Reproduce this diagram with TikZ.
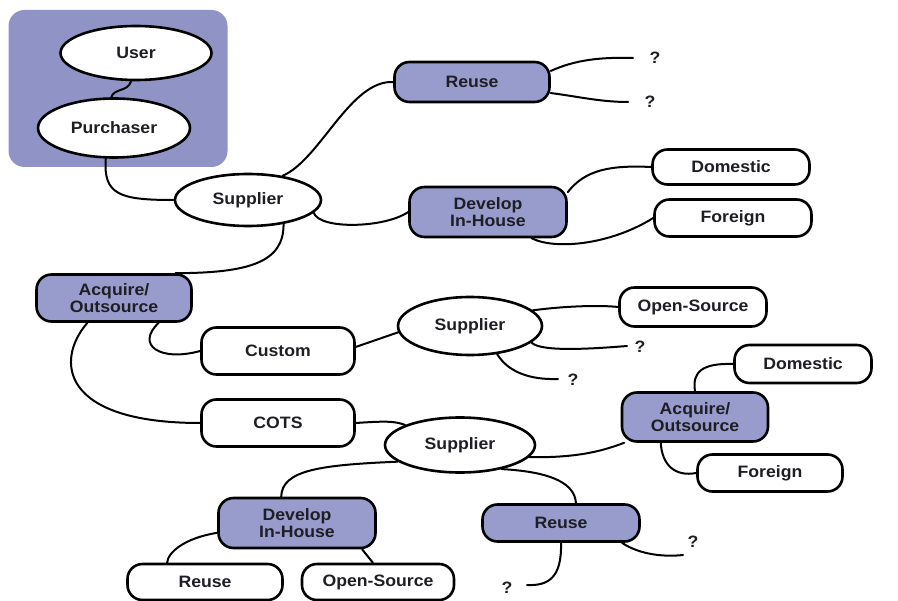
\documentclass[tikz,border=0pt]{standalone}
\usepackage{fontspec}
\setmainfont{Liberation Sans}[FakeStretch=1.07]
\usetikzlibrary{shapes.geometric,calc}
\definecolor{grpblue}{RGB}{143,147,198}
\definecolor{nodeblue}{RGB}{152,156,204}
\definecolor{txt}{RGB}{30,30,36}
\begin{document}
\begin{tikzpicture}[x=1pt,y=-1pt,
  lbl/.style={font=\fontsize{16.5}{17.5}\selectfont\bfseries, text=txt, align=center},
  ell/.style={lbl, ellipse, draw, line width=2.6pt, fill=white, inner sep=0pt},
  wbox/.style={lbl, rectangle, rounded corners=15pt, draw, line width=2.6pt, fill=white, inner sep=0pt},
  bbox/.style={wbox, fill=nodeblue},
  grp/.style={rectangle, rounded corners=16pt, fill=grpblue, inner sep=0pt},
  link/.style={line width=2pt, line cap=round},
  qm/.style={lbl}]
\path[use as bounding box] (0,0) rectangle (898,601);
% group
\node[grp, minimum width=219pt, minimum height=157pt] (grp) at (118,88.5) {};
% nodes
\node[ell, minimum width=151pt, minimum height=54pt] (user) at (136,53) {User};
\node[ell, minimum width=152pt, minimum height=59pt] (purch) at (114,128) {Purchaser};
\node[ell, minimum width=146pt, minimum height=52pt] (sup1) at (248,200) {Supplier};
\node[bbox, minimum width=155pt, minimum height=40pt] (reuse1) at (472,82) {Reuse};
\node[bbox, minimum width=157pt, minimum height=50pt] (dev1) at (488,212) {Develop\\In-House};
\node[wbox, minimum width=157pt, minimum height=35pt] (dom1) at (731,167) {Domestic};
\node[wbox, minimum width=157pt, minimum height=37pt] (for1) at (733,218) {Foreign};
\node[bbox, minimum width=155pt, minimum height=47pt] (acq1) at (114,298) {Acquire/\\Outsource};
\node[wbox, minimum width=153pt, minimum height=47pt] (custom) at (278,351) {Custom};
\node[wbox, minimum width=153pt, minimum height=47pt] (cots) at (278,423) {COTS};
\node[ell, minimum width=144pt, minimum height=58pt] (sup2) at (470,326) {Supplier};
\node[wbox, minimum width=147pt, minimum height=39pt] (os1) at (693,307) {Open-Source};
\node[wbox, minimum width=137pt, minimum height=38pt] (dom2) at (803,364) {Domestic};
\node[bbox, minimum width=146pt, minimum height=49pt] (acq2) at (695,417) {Acquire/\\Outsource};
\node[wbox, minimum width=145pt, minimum height=37pt] (for2) at (770,473) {Foreign};
\node[ell, minimum width=150pt, minimum height=55pt] (sup3) at (460,445) {Supplier};
\node[bbox, minimum width=157pt, minimum height=50pt] (dev2) at (297,523) {Develop\\In-House};
\node[bbox, minimum width=157pt, minimum height=37pt] (reuse2) at (561,523) {Reuse};
\node[wbox, minimum width=155pt, minimum height=36pt] (reuse3) at (205,582) {Reuse};
\node[wbox, minimum width=152pt, minimum height=36pt] (os3) at (378,582) {Open-Source};
% question marks and free ends
\node[qm] (q1) at (655,58) {?};
\node[qm] (q2) at (650,102) {?};
\node[qm] (q3) at (640,347) {?};
\node[qm] (q4) at (573,380) {?};
\node[qm] (q5) at (693,542) {?};
\node[qm] (q6) at (507,588) {?};
\coordinate (e1) at (633,58);
\coordinate (e2) at (628,102);
\coordinate (e3) at (627,346);
\coordinate (e4) at (558,379);
\coordinate (e5) at (683,555);
\coordinate (e6) at (527,585);
% connectors
\draw[link] (user.-100) .. controls (128,92) and (114,88) .. (purch.95);
\draw[link] (purch.-105) .. controls (103,195) and (120,200) .. (sup1.west);
\draw[link] (sup1.35) .. controls (320,160) and (350,80) .. (reuse1.west);
\draw[link] (sup1.-11) .. controls (320,230) and (385,228) .. (dev1.west);
\draw[link] (dev1.14) .. controls (585,170) and (610,165) .. (dom1.west);
\draw[link] (dev1.-31) .. controls (555,250) and (610,245) .. (for1.west);
\draw[link] (reuse1.8) .. controls (575,60) and (600,57) .. (e1);
\draw[link] (reuse1.-8) .. controls (575,96) and (600,102) .. (e2);
\draw[link] (sup1.-34) .. controls (284,262) and (250,273) .. (acq1.22);
\draw[link] (acq1.-29) .. controls (135,345) and (160,362) .. (custom.west);
\draw[link] (acq1.-137) .. controls (55,360) and (60,423) .. (cots.west);
\draw[link] (custom.3) -- (sup2.185);
\draw[link] (sup2.14) .. controls (565,306) and (600,305) .. (os1.west);
\draw[link] (sup2.-15) .. controls (540,352) and (590,349) .. (e3);
\draw[link] (sup2.-46) .. controls (508,372) and (530,380) .. (e4);
\draw[link] (cots.east) .. controls (385,421) and (395,421) .. (sup3.160);
\draw[link] (sup3.-10) .. controls (580,458) and (605,450) .. (acq2.-160);
\draw[link] (acq2.north) .. controls (692,372) and (702,363) .. (dom2.west);
\draw[link] (acq2.-143) .. controls (662,465) and (675,477) .. (for2.west);
\draw[link] (sup3.-165) .. controls (320,465) and (282,470) .. (dev2.121);
\draw[link] (sup3.-30) .. controls (555,472) and (575,485) .. (reuse2.53);
\draw[link] (dev2.-173) .. controls (185,538) and (168,552) .. (reuse3.153);
\draw[link] (dev2.-22) -- (os3.105);
\draw[link] (reuse2.-18) .. controls (640,555) and (665,557) .. (e5);
\draw[link] (reuse2.south) .. controls (562,578) and (548,586) .. (e6);
\end{tikzpicture}
\end{document}
